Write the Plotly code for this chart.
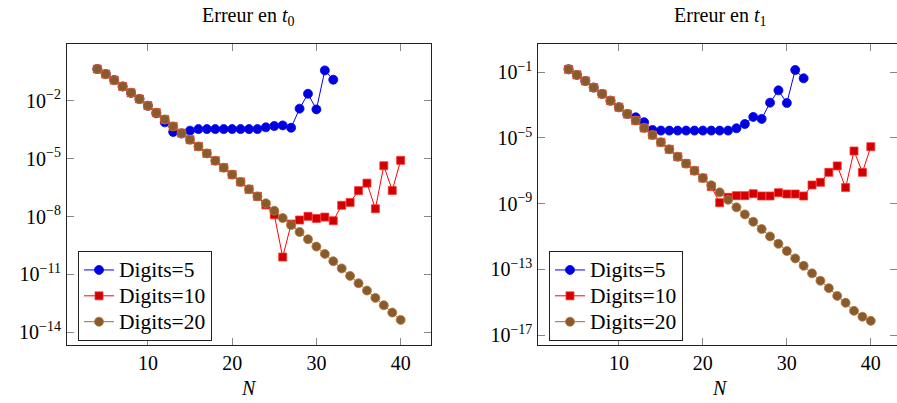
import plotly.graph_objects as go

N_all = list(range(4, 41))
N_d5 = list(range(4, 33))

# ---- Erreur en t0 ----
t0_digits5 = [4.37e-1, 2.40e-1, 1.17e-1, 5.50e-2, 2.57e-2, 1.23e-2, 5.5e-3, 2.24e-3,
              7.59e-4, 2.40e-4, 2.0e-4, 2.82e-4, 3.39e-4, 3.39e-4, 3.39e-4, 3.39e-4,
              3.39e-4, 3.39e-4, 3.39e-4, 3.39e-4, 4.17e-4, 4.90e-4, 5.25e-4, 3.98e-4,
              3.89e-3, 2.29e-2, 3.55e-3, 3.72e-1, 1.23e-1]
t0_digits10 = [4.37e-1, 2.40e-1, 1.17e-1, 5.50e-2, 2.57e-2, 1.23e-2, 5.5e-3, 2.4e-3,
               1.07e-3, 4.68e-4, 2.09e-4, 9.55e-5, 4.27e-5, 1.86e-5, 7.76e-6, 3.39e-6,
               1.48e-6, 6.17e-7, 2.57e-7, 1.10e-7, 3.98e-8, 1.23e-8, 7.94e-11, 4.07e-9,
               6.61e-9, 1.02e-8, 7.94e-9, 9.33e-9, 6.03e-9, 3.80e-8, 5.37e-8, 2.19e-7,
               5.37e-7, 2.51e-8, 4.27e-6, 2.24e-7, 8.13e-6]
t0_digits20 = [4.37e-1, 2.40e-1, 1.17e-1, 5.50e-2, 2.57e-2, 1.23e-2, 5.5e-3, 2.4e-3,
               1.07e-3, 4.68e-4, 2.09e-4, 9.55e-5, 4.27e-5, 1.86e-5, 7.76e-6, 3.39e-6,
               1.48e-6, 6.17e-7, 2.57e-7, 1.10e-7, 4.79e-8, 2.0e-8, 8.32e-9, 3.63e-9,
               1.58e-9, 6.61e-10, 2.75e-10, 1.15e-10, 4.79e-11, 2.04e-11, 8.32e-12,
               3.47e-12, 1.45e-12, 6.03e-13, 2.51e-13, 1.05e-13, 4.37e-14]

# ---- Erreur en t1 ----
t1_digits5 = [1.51e-1, 6.92e-2, 2.95e-2, 1.17e-2, 4.79e-3, 1.86e-3, 7.41e-4, 2.88e-4,
              1.82e-4, 9.12e-5, 3.09e-5, 2.82e-5, 2.82e-5, 2.82e-5, 2.82e-5, 2.82e-5,
              2.82e-5, 2.82e-5, 2.82e-5, 2.82e-5, 3.89e-5, 7.08e-5, 1.91e-4, 1.45e-4,
              1.41e-3, 7.94e-3, 1.35e-3, 1.38e-1, 4.27e-2]
t1_digits10 = [1.51e-1, 6.92e-2, 2.95e-2, 1.17e-2, 4.79e-3, 1.86e-3, 7.41e-4, 2.88e-4,
               1.15e-4, 4.07e-5, 1.51e-5, 5.50e-6, 2.04e-6, 7.24e-7, 2.75e-7, 1.02e-7,
               3.63e-8, 1.10e-8, 1.15e-9, 2.45e-9, 3.09e-9, 3.09e-9, 4.07e-9, 2.95e-9,
               2.95e-9, 4.68e-9, 3.89e-9, 3.89e-9, 2.95e-9, 1.38e-8, 2.0e-8, 8.13e-8,
               2.0e-7, 9.55e-9, 1.62e-6, 8.13e-8, 2.95e-6]
t1_digits20 = [1.51e-1, 6.92e-2, 2.95e-2, 1.17e-2, 4.79e-3, 1.86e-3, 7.41e-4, 2.88e-4,
               1.15e-4, 4.07e-5, 1.51e-5, 5.50e-6, 2.04e-6, 7.24e-7, 2.75e-7, 1.02e-7,
               3.63e-8, 1.32e-8, 4.90e-9, 1.74e-9, 6.03e-10, 2.24e-10, 7.94e-11,
               2.88e-11, 1.02e-11, 3.63e-12, 1.32e-12, 4.68e-13, 1.66e-13, 5.75e-14,
               2.04e-14, 7.24e-15, 2.45e-15, 9.33e-16, 3.02e-16, 1.32e-16, 7.41e-17]

titles = ["Erreur en <i>t</i><sub>0</sub>", "Erreur en <i>t</i><sub>1</sub>"]
series_names = ["Digits=5", "Digits=10", "Digits=20"]
x_ticks = [10, 20, 30, 40]
y_ticks_t0 = [1e-2, 1e-5, 1e-8, 1e-11, 1e-14]
y_ticks_t0_text = ["10<sup>−2</sup>", "10<sup>−5</sup>", "10<sup>−8</sup>",
                   "10<sup>−11</sup>", "10<sup>−14</sup>"]
y_ticks_t1 = [1e-1, 1e-5, 1e-9, 1e-13, 1e-17]
y_ticks_t1_text = ["10<sup>−1</sup>", "10<sup>−5</sup>", "10<sup>−9</sup>",
                   "10<sup>−13</sup>", "10<sup>−17</sup>"]

FONT = "Liberation Serif"
W, H = 897, 403


def px(xp):
    return xp / W


def py(yp):
    return 1 - yp / H


styles = [
    dict(line=dict(color="#0000FF", width=1),
         marker=dict(symbol="circle", size=9, color="#0000DD",
                     line=dict(color="#0000FF", width=0.8))),
    dict(line=dict(color="#FF0000", width=1),
         marker=dict(symbol="square", size=8, color="#D00000",
                     line=dict(color="#FF3333", width=0.8))),
    dict(line=dict(color="#A06A38", width=1),
         marker=dict(symbol="circle", size=9, color="#8B5A2B",
                     line=dict(color="#B07840", width=0.8))),
]

fig = go.Figure()
panels = [
    ("x", "y", "legend", [N_d5, N_all, N_all], [t0_digits5, t0_digits10, t0_digits20]),
    ("x2", "y2", "legend2", [N_d5, N_all, N_all], [t1_digits5, t1_digits10, t1_digits20]),
]
for xa, ya, lg, xs, ys in panels:
    for i in range(3):
        fig.add_trace(go.Scatter(
            x=xs[i], y=ys[i], mode="lines+markers",
            name="<span style='font-size:21.5px'>" + series_names[i] + "</span>",
            xaxis=xa, yaxis=ya, legend=lg, **styles[i]))

ax_common = dict(showline=True, linecolor="#222", linewidth=1, mirror="allticks",
                 ticks="inside", ticklen=7, tickcolor="#888", tickwidth=1,
                 showgrid=False, zeroline=False,
                 tickfont=dict(family=FONT, size=20, color="black"))

y_dom = [py(345), py(44)]
leg_common = dict(yanchor="top", xanchor="left", bgcolor="white", bordercolor="#222",
                  borderwidth=1, font=dict(family=FONT, size=17.6, color="black"),
                  itemwidth=30, tracegroupgap=0)
fig.update_layout(
    width=W, height=H,
    margin=dict(l=0, r=0, t=0, b=0),
    paper_bgcolor="white", plot_bgcolor="white",
    font=dict(family=FONT, size=20, color="black"),
    xaxis=dict(domain=[px(67), px(431)], range=[0.4, 43.6], tickvals=x_ticks,
               anchor="y", ticklabelstandoff=0, **ax_common),
    yaxis=dict(domain=y_dom, type="log", range=[-14.66, 0.94], tickvals=y_ticks_t0,
               ticktext=y_ticks_t0_text, anchor="x", ticklabelstandoff=1, **ax_common),
    xaxis2=dict(domain=[px(538.3), 1.0], range=[0.4, 43.12], tickvals=x_ticks,
                anchor="y2", ticklabelstandoff=0, **ax_common),
    yaxis2=dict(domain=y_dom, type="log", range=[-17.6, 0.72], tickvals=y_ticks_t1,
                ticktext=y_ticks_t1_text, anchor="x2", ticklabelstandoff=1, **ax_common),
    legend=dict(x=px(78), y=py(251), **leg_common),
    legend2=dict(x=px(549), y=py(251), **leg_common),
    showlegend=True,
)

annots = [
    dict(text=titles[0], x=px(249), y=py(16)),
    dict(text=titles[1], x=px(720), y=py(16)),
    dict(text="<i>N</i>", x=px(249), y=py(388)),
    dict(text="<i>N</i>", x=px(720), y=py(388)),
]
for a in annots:
    fig.add_annotation(xref="paper", yref="paper", showarrow=False,
                       xanchor="center", yanchor="middle",
                       font=dict(family=FONT, size=20, color="black"), **a)

fig.write_html("out.html",
               config={"displayModeBar": False},
               post_script="document.body.style.margin='0';"
                           "document.body.style.overflow='hidden';")
